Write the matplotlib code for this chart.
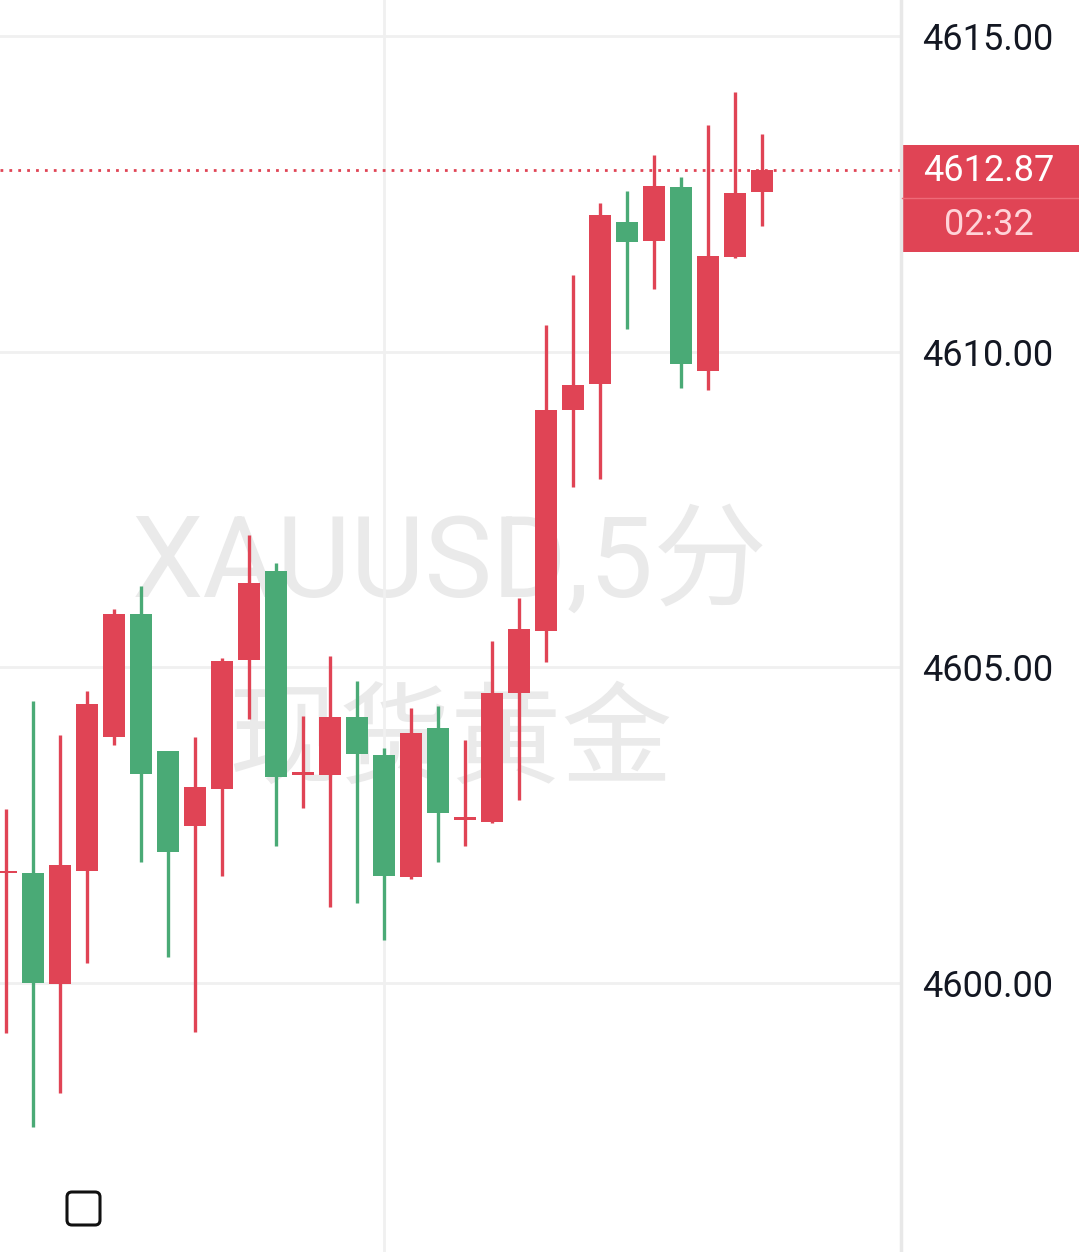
import matplotlib.pyplot as plt
from matplotlib.patches import Rectangle, FancyBboxPatch
from matplotlib.transforms import IdentityTransform

# 5 min candles, XAUUSD
opens = [4601.74, 4601.74, 4599.98, 4601.77, 4603.90, 4605.84, 4603.67, 4602.48,
         4603.07, 4605.12, 4606.53, 4603.30, 4603.29, 4604.21, 4603.61, 4601.68,
         4604.04, 4602.59, 4602.55, 4604.59, 4605.57, 4609.08, 4609.49, 4612.05,
         4611.75, 4612.61, 4609.69, 4611.50, 4612.53]
highs = [4602.76, 4604.47, 4603.93, 4604.62, 4605.92, 4606.29, 4603.67, 4603.90,
         4605.15, 4607.10, 4606.65, 4604.23, 4605.18, 4604.78, 4603.72, 4604.36,
         4604.39, 4603.85, 4605.42, 4606.10, 4610.42, 4611.21, 4612.35, 4612.54,
         4613.12, 4612.77, 4613.59, 4614.11, 4613.45]
lows = [4599.21, 4597.72, 4598.26, 4600.32, 4603.77, 4601.92, 4600.41, 4599.22,
        4601.69, 4604.18, 4602.17, 4602.77, 4601.20, 4601.27, 4600.68, 4601.65,
        4601.92, 4602.17, 4602.53, 4602.90, 4605.08, 4607.86, 4607.99, 4610.36,
        4610.99, 4609.42, 4609.39, 4611.49, 4611.99]
closes = [4601.76, 4600.00, 4601.87, 4604.42, 4605.84, 4603.31, 4602.08, 4603.10,
          4605.10, 4606.34, 4603.26, 4603.32, 4604.21, 4603.63, 4601.69, 4603.96,
          4602.69, 4602.61, 4604.59, 4605.61, 4609.08, 4609.47, 4612.16, 4611.74,
          4612.62, 4609.81, 4611.51, 4612.51, 4612.87]
price_ticks = [4600.00, 4605.00, 4610.00, 4615.00]
last_price = 4612.87
countdown = '02:32'

up_col = '#e04455'
down_col = '#4aaa76'
grid_col = '#f0f0f0'

W, H = 1079, 1252
fig = plt.figure(figsize=(W / 100, H / 100), dpi=100)
fig.patch.set_facecolor('white')
ax = fig.add_axes([0, 0, 900 / W, 1])

for s in ax.spines.values():
    s.set_visible(False)

xs = list(range(len(opens)))
for i in xs:
    o, h, l, c = opens[i], highs[i], lows[i], closes[i]
    col = up_col if c >= o else down_col
    ax.vlines(i, l, h, color=col, linewidth=2.4, zorder=3)
    bottom = min(o, c)
    height = max(abs(c - o), 0.035)
    ax.bar(i, height, bottom=bottom, width=0.78, color=col, linewidth=0, zorder=4)

for p in price_ticks:
    ax.axhline(p, color=grid_col, linewidth=2, zorder=1)
ax.axvline(14, color=grid_col, linewidth=2, zorder=1)

ax.axhline(last_price, color=up_col, linewidth=2, linestyle=(0, (1, 2.2)), zorder=2)

ax.set_xlim(-0.222, 33.11)
ax.set_ylim(4595.74, 4615.57)
ax.set_xticks([])
ax.yaxis.tick_right()
ax.set_yticks(price_ticks)
ax.set_yticklabels(['%.2f' % p for p in price_ticks], fontsize=26, family='Roboto', color='#131722')
ax.tick_params(axis='y', length=0, pad=16)

# watermark
ax.text(0.5, 0.549, 'XAUUSD,5分', transform=ax.transAxes, ha='center', va='center',
        fontsize=82, color='#eaeaea', family=['Roboto', 'Noto Sans CJK SC'], zorder=0)
ax.text(0.5, 0.407, '现货黄金', transform=ax.transAxes, ha='center', va='center',
        fontsize=80, color='#eaeaea', family=['Noto Sans CJK SC', 'DejaVu Sans'], zorder=0)

# separator of price scale
fig.add_artist(plt.Line2D([901 / W, 901 / W], [0, 1], color='#e8e8e8', linewidth=2.5))

# last price label
fig.add_artist(Rectangle((902 / W, 1 - 252 / H), 177 / W, 107 / H, transform=fig.transFigure,
                         facecolor=up_col, edgecolor='none'))
fig.add_artist(plt.Line2D([902 / W, 1], [1 - 198 / H, 1 - 198 / H], color='#ee6a78', linewidth=1))
fig.text(989 / W, 1 - 171 / H, '%.2f' % last_price, ha='center', va='center', fontsize=26,
         color='white', family='Roboto')
fig.text(989 / W, 1 - 225 / H, countdown, ha='center', va='center', fontsize=26,
         color='#ffd3d8', family='Roboto')

# little square at bottom left
sq = FancyBboxPatch((67, H - 1225), 33, 33, boxstyle='round,pad=0,rounding_size=5',
                    transform=IdentityTransform(), facecolor='white', edgecolor='#111111',
                    linewidth=2.2)
fig.add_artist(sq)

plt.savefig('out.png', dpi=100, facecolor='white')
